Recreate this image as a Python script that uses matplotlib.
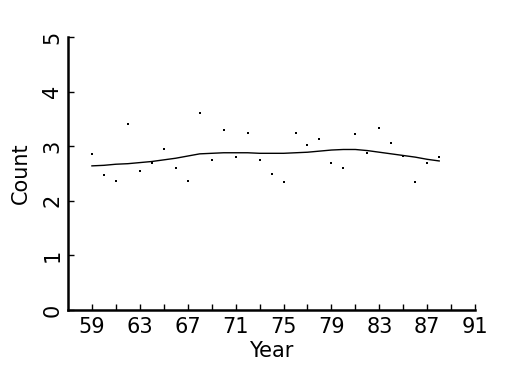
import matplotlib
matplotlib.use("Agg")
import matplotlib.pyplot as plt

plt.rcParams['font.family'] = ['DejaVu Sans']

# yearly counts
years = [59, 60, 61, 62, 63, 64, 65, 66, 67, 68, 69, 70, 71, 72, 73,
         74, 75, 76, 77, 78, 79, 80, 81, 82, 83, 84, 85, 86, 87, 88]
counts = [2.85, 2.47, 2.36, 3.41, 2.55, 2.70, 2.94, 2.61, 2.36, 3.60,
          2.74, 3.30, 2.80, 3.25, 2.74, 2.50, 2.34, 3.24, 3.02, 3.13,
          2.70, 2.61, 3.22, 2.88, 3.33, 3.06, 2.82, 2.34, 2.69, 2.80]
# smooth curve as drawn
smooth = [2.64, 2.65, 2.67, 2.68, 2.70, 2.72, 2.75, 2.78, 2.82, 2.86,
          2.87, 2.88, 2.88, 2.88, 2.87, 2.87, 2.87, 2.88, 2.89, 2.91,
          2.93, 2.94, 2.94, 2.92, 2.89, 2.86, 2.83, 2.80, 2.76, 2.73]

xticks = list(range(59, 92, 2))
xlabels = [str(t) if (t - 59) % 4 == 0 else '' for t in xticks]
yticks = [0, 1, 2, 3, 4, 5]

fig = plt.figure(figsize=(5.25, 3.75), dpi=100)
ax = fig.add_axes([0.1295, 0.1733, 0.7755, 0.728])

ax.plot(years, counts, 's', color='black', markersize=1.9, markeredgewidth=0)
ax.plot(years, smooth, '-', color='black', linewidth=1.0)

ax.set_xlim(57, 91)
ax.set_ylim(0, 5)
ax.set_xticks(xticks)
ax.set_xticklabels(xlabels)
ax.set_yticks(yticks)
ax.set_yticklabels([str(t) for t in yticks], rotation=90, va='center')

for s in ['top', 'right']:
    ax.spines[s].set_visible(False)
for s in ['left', 'bottom']:
    ax.spines[s].set_linewidth(1.8)

ax.tick_params(direction='in', length=4, width=1, labelsize=15, pad=5)
ax.tick_params(axis='y', pad=4)

ax.set_xlabel('Year', fontsize=15, labelpad=3)
ax.set_ylabel('Count', fontsize=15, labelpad=8)

fig.savefig('out.png', dpi=100)
